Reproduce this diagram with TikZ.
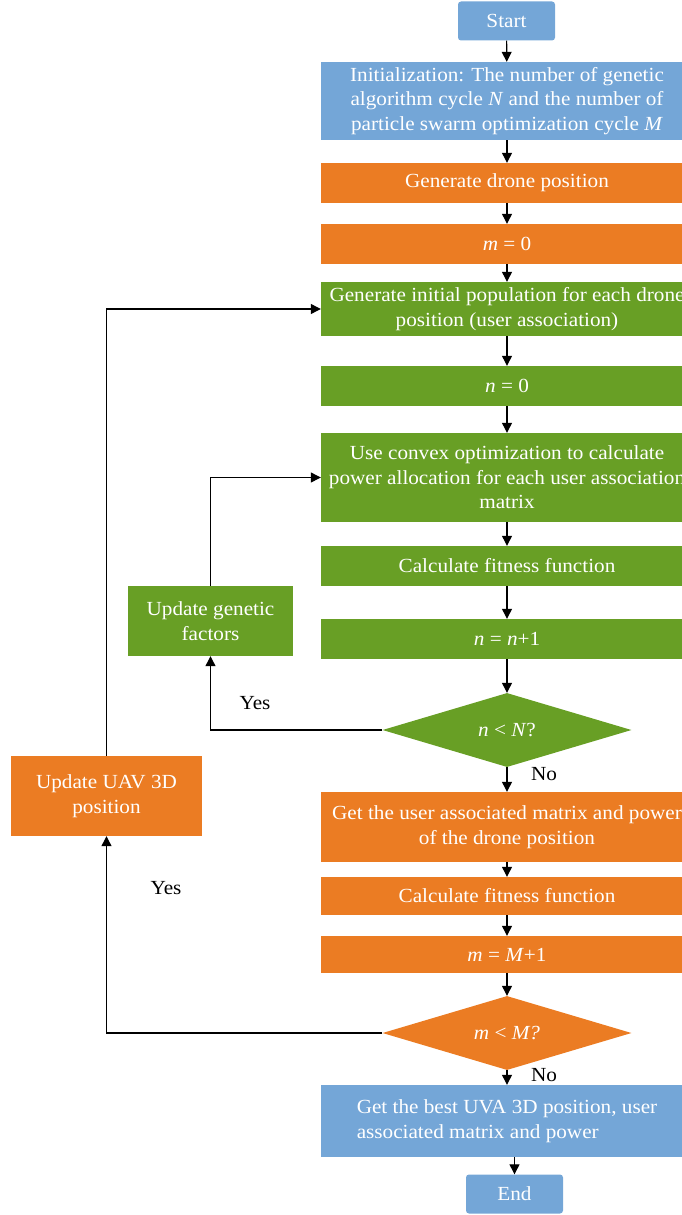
\documentclass[tikz,border=0pt]{standalone}
\usepackage{fontspec}
\setmainfont[FakeStretch=1.06]{Liberation Serif}
\usetikzlibrary{shapes.geometric, arrows.meta, positioning}
\definecolor{flowblue}{RGB}{116,166,215}
\definecolor{floworange}{RGB}{235,124,35}
\definecolor{flowgreen}{RGB}{104,159,37}
\tikzset{
  startstop/.style={rectangle, rounded corners=3pt, minimum width=97pt, minimum height=39pt, fill=flowblue, text=white, align=center},
  bluebox/.style={rectangle, minimum width=372pt, fill=flowblue, text=white, align=center},
  orangebox/.style={rectangle, minimum width=372pt, fill=floworange, text=white, align=center},
  greenbox/.style={rectangle, minimum width=372pt, fill=flowgreen, text=white, align=center},
  decision/.style={diamond, aspect=3.36, minimum width=249pt, minimum height=74pt, inner sep=0pt, text=white},
  label/.style={text=black},
  arrow/.style={-{Triangle[length=10pt, width=10pt]}, draw=black, line width=1.2pt},
}

\begin{document}
\begin{tikzpicture}[x=1pt, y=-1pt, every node/.style={font=\fontsize{20}{24.5}\selectfont}]
  \useasboundingbox (0,0) rectangle (682,1215);

  % ---- Start / init ----
  \node (start) [startstop] at (506.5,21) {Start};
  \node (init) [bluebox, minimum height=78pt] at (507,101) {Initialization: The number of genetic\\algorithm cycle \textit{N} and the number of\\particle swarm optimization cycle \textit{M}};

  % ---- Outer loop (drone position) ----
  \node (gen) [orangebox, minimum height=40pt] at (507,183) {Generate drone position};
  \node (mzero) [orangebox, minimum height=40pt] at (507,244) {\textit{m} = 0};

  % ---- Inner loop (genetic algorithm) ----
  \node (pop) [greenbox, minimum height=54pt] at (507,309) {Generate initial population for each drone\\position (user association)};
  \node (nzero) [greenbox, minimum height=40pt] at (507,386) {\textit{n} = 0};
  \node (convex) [greenbox, minimum height=89pt] at (507,477.5) {Use convex optimization to calculate\\power allocation for each user association\\matrix};
  \node (fitn) [greenbox, minimum height=40pt] at (507,566) {Calculate fitness function};
  \node (ninc) [greenbox, minimum height=40pt] at (507,639) {\textit{n} = \textit{n}+1};
  \node (ndec) [decision, fill=flowgreen] at (507,730) {\textit{n} < \textit{N}?};
  \node (gfact) [greenbox, minimum width=165pt, minimum height=70pt] at (210.5,621) {Update genetic\\factors};

  % ---- After inner loop ----
  \node (getmat) [orangebox, minimum height=70pt] at (507,827) {Get the user associated matrix and power\\of the drone position};
  \node (fitm) [orangebox, minimum height=38pt] at (507,896) {Calculate fitness function};
  \node (minc) [orangebox, minimum height=37pt] at (507,954.5) {\textit{m} = \textit{M}+1};
  \node (mdec) [decision, fill=floworange] at (507,1033) {\textit{m} < \textit{M?}};
  \node (uav) [orangebox, minimum width=191pt, minimum height=80pt] at (106.5,796) {Update UAV 3D\\position};

  % ---- Result ----
  \node (best) [bluebox, minimum height=72pt, align=left] at (507,1121) {Get the best UVA 3D position, user\\associated matrix and power};
  \node (end) [startstop] at (514.5,1194) {End};

  % ---- Labels ----
  \node (yesn) [label] at (255,703) {Yes};
  \node (non) [label] at (544,774) {No};
  \node (yesm) [label] at (166,888) {Yes};
  \node (nom) [label] at (544,1075) {No};

  % ---- Arrows ----
  \draw [arrow] (start) -- (init);
  \draw [arrow] (init) -- (gen);
  \draw [arrow] (gen) -- (mzero);
  \draw [arrow] (mzero) -- (pop);
  \draw [arrow] (pop) -- (nzero);
  \draw [arrow] (nzero) -- (convex);
  \draw [arrow] (convex) -- (fitn);
  \draw [arrow] (fitn) -- (ninc);
  \draw [arrow] (ninc) -- (ndec);
  \draw [arrow] (ndec) -- (getmat);
  \draw [arrow] (ndec.west) -| (gfact.south);
  \draw [arrow] (gfact.north) |- (convex.west);
  \draw [arrow] (getmat) -- (fitm);
  \draw [arrow] (fitm) -- (minc);
  \draw [arrow] (minc) -- (mdec);
  \draw [arrow] (mdec) -- (best);
  \draw [arrow] (mdec.west) -| (uav.south);
  \draw [arrow] (uav.north) |- (pop.west);
  \draw [arrow] (best.south -| end.north) -- (end.north);

\end{tikzpicture}
\end{document}
